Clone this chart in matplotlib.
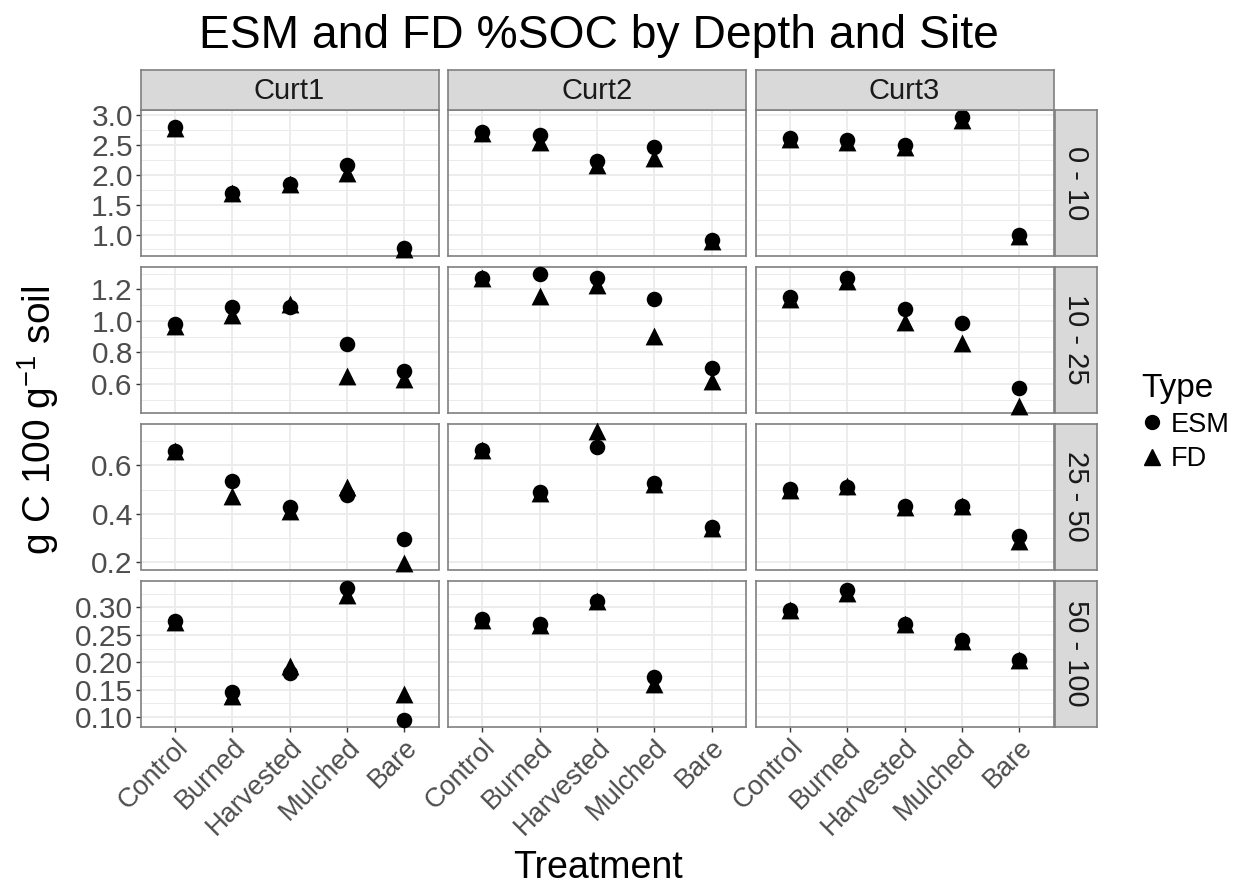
import numpy as np
import matplotlib.pyplot as plt
from matplotlib.lines import Line2D
from matplotlib.ticker import FixedLocator, MultipleLocator, FormatStrFormatter

plt.rcParams['font.family'] = ['Liberation Sans', 'DejaVu Sans']
plt.rcParams['mathtext.default'] = 'regular'

treatments = ['Control', 'Burned', 'Harvested', 'Mulched', 'Bare']
sites = ['Curt1', 'Curt2', 'Curt3']
depths = ['0 - 10', '10 - 25', '25 - 50', '50 - 100']

# %SOC per site (rows) and treatment (columns)
esm_0_10 = [[2.80, 1.70, 1.85, 2.17, 0.77],
            [2.72, 2.67, 2.24, 2.47, 0.91],
            [2.62, 2.58, 2.50, 2.98, 1.00]]
fd_0_10 = [[2.79, 1.69, 1.85, 2.03, 0.76],
           [2.71, 2.55, 2.17, 2.28, 0.90],
           [2.61, 2.56, 2.47, 2.92, 0.97]]

esm_10_25 = [[0.98, 1.09, 1.09, 0.85, 0.68],
             [1.27, 1.30, 1.27, 1.14, 0.70],
             [1.15, 1.27, 1.075, 0.985, 0.575]]
fd_10_25 = [[0.97, 1.04, 1.105, 0.65, 0.63],
            [1.27, 1.16, 1.23, 0.905, 0.62],
            [1.14, 1.25, 0.995, 0.86, 0.46]]

esm_25_50 = [[0.66, 0.534, 0.429, 0.477, 0.295],
             [0.664, 0.488, 0.678, 0.529, 0.343],
             [0.502, 0.512, 0.430, 0.430, 0.307]]
fd_25_50 = [[0.66, 0.474, 0.412, 0.511, 0.196],
            [0.663, 0.485, 0.744, 0.522, 0.340],
            [0.500, 0.514, 0.428, 0.432, 0.285]]

esm_50_100 = [[0.275, 0.146, 0.180, 0.336, 0.095],
              [0.278, 0.270, 0.311, 0.174, np.nan],
              [0.296, 0.332, 0.270, 0.240, 0.204]]
fd_50_100 = [[0.274, 0.138, 0.193, 0.323, 0.142],
             [0.277, 0.268, 0.311, 0.161, np.nan],
             [0.295, 0.327, 0.269, 0.239, 0.204]]

esm = [esm_0_10, esm_10_25, esm_25_50, esm_50_100]
fd = [fd_0_10, fd_10_25, fd_25_50, fd_50_100]

y_major = [[1.0, 1.5, 2.0, 2.5, 3.0],
           [0.6, 0.8, 1.0, 1.2],
           [0.2, 0.4, 0.6],
           [0.10, 0.15, 0.20, 0.25, 0.30]]
y_fmt = ['%.1f', '%.1f', '%.1f', '%.2f']

W, H = 1236, 893
fig = plt.figure(figsize=(W / 100, H / 100), dpi=100)


def px_axes(x0, y0, x1, y1, **kw):
    # pixel box (top-left origin) -> figure axes
    return fig.add_axes([x0 / W, 1 - y1 / H, (x1 - x0) / W, (y1 - y0) / H], **kw)


def strip_style(sax):
    sax.set_xticks([])
    sax.set_yticks([])
    sax.set_facecolor('#D9D9D9')
    for s in sax.spines.values():
        s.set_color('#7F7F7F')
        s.set_linewidth(1.2)


grid_col = '#EBEBEB'
col_left = [140.5, 448.0, 755.5]
panel_w = 298.0
row_top = [110.0, 267.0, 424.0, 581.0]
panel_h = 145.5
strip_h = 40.0
strip_w = 42.0
x = np.arange(1, len(treatments) + 1)

for r in range(len(depths)):
    vals = np.concatenate([np.ravel(esm[r]), np.ravel(fd[r])])
    lo, hi = np.nanmin(vals), np.nanmax(vals)
    pad = (hi - lo) * 0.05
    for c in range(len(sites)):
        ax = px_axes(col_left[c], row_top[r], col_left[c] + panel_w, row_top[r] + panel_h)
        ax.set_xlim(0.4, 5.6)
        ax.set_ylim(lo - pad, hi + pad)
        ax.set_axisbelow(True)
        ax.yaxis.set_major_locator(FixedLocator(y_major[r]))
        step = y_major[r][1] - y_major[r][0]
        ax.yaxis.set_minor_locator(MultipleLocator(step / 2))
        ax.yaxis.set_major_formatter(FormatStrFormatter(y_fmt[r]))
        ax.set_xticks(x)
        ax.grid(True, which='major', color=grid_col, linewidth=1.3)
        ax.grid(True, which='minor', axis='y', color=grid_col, linewidth=0.7)
        for s in ax.spines.values():
            s.set_color('#7F7F7F')
            s.set_linewidth(1.2)
        ax.tick_params(which='major', length=3.5, width=1.0, color='#333333',
                       labelcolor='#4D4D4D', pad=2)
        ax.tick_params(axis='y', labelsize=21.5)
        ax.tick_params(axis='x', labelsize=19.5)
        ax.tick_params(which='minor', length=0)
        ax.scatter(x, esm[r][c], marker='o', s=125, color='black', linewidths=0,
                   zorder=3, clip_on=False)
        ax.scatter(x, fd[r][c], marker='^', s=165, color='black', linewidths=0,
                   zorder=3, clip_on=False)
        if c > 0:
            ax.tick_params(axis='y', labelleft=False, length=0)
        if r < len(depths) - 1:
            ax.tick_params(axis='x', labelbottom=False, length=0)
        else:
            ax.set_xticklabels(treatments, rotation=45, ha='right', rotation_mode='anchor')

# column strips
for c, site in enumerate(sites):
    sax = px_axes(col_left[c], row_top[0] - strip_h, col_left[c] + panel_w, row_top[0])
    strip_style(sax)
    sax.text(0.5, 0.48, site, ha='center', va='center', fontsize=21,
             color='#1A1A1A', transform=sax.transAxes)

# row strips
strip_x = col_left[2] + panel_w + 1.5
for r, depth in enumerate(depths):
    sax = px_axes(strip_x, row_top[r], strip_x + strip_w, row_top[r] + panel_h)
    strip_style(sax)
    sax.text(0.5, 0.5, depth, ha='center', va='center', fontsize=21,
             color='#1A1A1A', rotation=-90, transform=sax.transAxes)

fig.text(599 / W, 1 - 36 / H, 'ESM and FD %SOC by Depth and Site',
         ha='center', va='center', fontsize=33.3)
fig.text(598 / W, 1 - 868 / H, 'Treatment', ha='center', va='center', fontsize=27)
fig.text(38 / W, 1 - 420 / H, r'g C 100 g$^{-1}$ soil', ha='center', va='center',
         fontsize=28, rotation=90)

handles = [Line2D([], [], marker='o', linestyle='', color='black', markersize=10),
           Line2D([], [], marker='^', linestyle='', color='black', markersize=11.5)]
leg = fig.legend(handles, ['ESM', 'FD'], title='Type', loc='upper left',
                 bbox_to_anchor=(1130 / W, 1 - 362 / H), frameon=False,
                 fontsize=19.5, title_fontsize=24, handlelength=0.8,
                 handletextpad=0.3, labelspacing=0.3, borderaxespad=0)
leg._legend_box.align = 'left'

fig.savefig('out.png', dpi=100, facecolor='white')
